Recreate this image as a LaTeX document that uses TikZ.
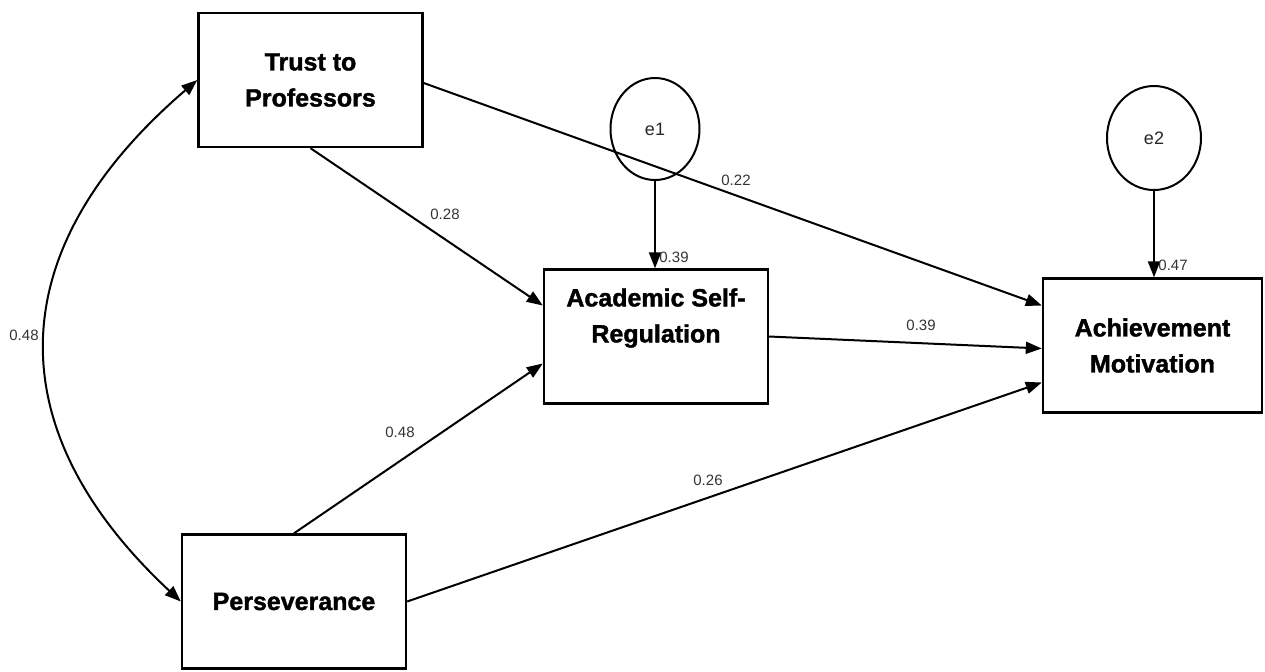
\documentclass[tikz,border=0pt]{standalone}
\usepackage{fontspec}
\setmainfont{Liberation Sans}
\newfontfamily\boxfont{Liberation Sans}[BoldFeatures={FakeBold=1.5}]
\usetikzlibrary{arrows.meta,calc,shapes.geometric}
\begin{document}
\begin{tikzpicture}[x=0.5pt,y=-0.5pt,
  box/.style={draw,line width=1.2pt,inner sep=0pt,minimum width=112pt,minimum height=67pt,align=center,font=\boxfont\fontsize{12.5}{18}\selectfont\bfseries},
  err/.style={draw,ellipse,line width=1pt,inner sep=0pt,font=\fontsize{9}{10}\selectfont,text=black!85},
  lbl/.style={font=\fontsize{7.5}{8}\selectfont,text=black!80,inner sep=0pt},
  tip/.tip={Triangle[length=8pt,width=6pt]},
  path/.style={line width=1pt,-tip}]
\useasboundingbox (0,0) rectangle (1265,671);
\node[box] (trust) at (310.5,80) {Trust to\\Professors};
\node[box] (persev) at (294,601.5) {Perseverance};
\node[box] (asr) at (656,336.5) {};
\node[font=\boxfont\fontsize{12.5}{18}\selectfont\bfseries,align=center] (asrtext) at (656,318) {Academic Self-\\Regulation};
\node[box,minimum width=109.5pt] (am) at (1152.5,345.5) {Achievement\\Motivation};
\node[err,minimum width=44.5pt,minimum height=51pt] (e1) at (655,129) {e1};
\node[err,minimum width=47pt,minimum height=52pt] (e2) at (1154,138) {e2};
% paths
\draw[path] (trust.south) -- ($(asr.west)+(0,-31)$);
\draw[path] ($(trust.east)+(0,3)$) -- ($(am.west)+(0,-40)$);
\draw[path] (asr.east) -- ($(am.west)+(0,3)$);
\draw[path] (persev.north) -- ($(asr.west)+(0,27)$);
\draw[path] (persev.east) -- ($(am.west)+(0,37)$);
\draw[path] (e1.south) -- (e1.south |- asr.north);
\draw[path] (e2.south) -- (e2.south |- am.north);
\draw[line width=1pt,tip-tip] (trust.west) .. controls (-2,251) and (-2,431) .. (persev.west);
% labels
\node[lbl] (l1) at (445,214) {0.28};
\node[lbl] (l2) at (736,180) {0.22};
\node[lbl] (l3) at (921,325) {0.39};
\node[lbl] (l4) at (400,432) {0.48};
\node[lbl] (l5) at (708,480) {0.26};
\node[lbl] (l6) at (674,257) {0.39};
\node[lbl] (l7) at (1173,265) {0.47};
\node[lbl] (l8) at (24,335) {0.48};
\end{tikzpicture}
\end{document}
